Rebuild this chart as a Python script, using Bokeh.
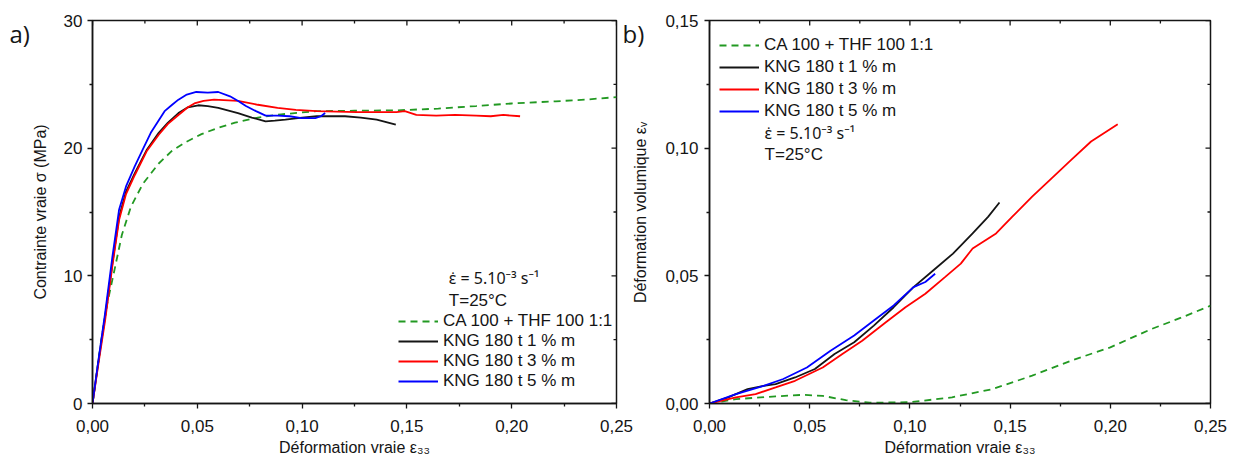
import math
from bokeh.plotting import figure
from bokeh.layouts import row
from bokeh.models import FixedTicker, Range1d, Label
from bokeh.embed import file_html
from bokeh.resources import INLINE

# ---------------- data ----------------
series_names = ["CA 100 + THF 100 1:1", "KNG 180 t 1 % m", "KNG 180 t 3 % m", "KNG 180 t 5 % m"]
series_colors = ["#229922", "#151515", "#ff0000", "#0000ff"]

x_ticks = [0.0, 0.05, 0.10, 0.15, 0.20, 0.25]
x_tick_labels = ["0,00", "0,05", "0,10", "0,15", "0,20", "0,25"]
x_minor = [0.025, 0.075, 0.125, 0.175, 0.225]

ya_ticks = [0, 10, 20, 30]
ya_tick_labels = ["0", "10", "20", "30"]
ya_minor = [5, 15, 25]

yb_ticks = [0.0, 0.05, 0.10, 0.15]
yb_tick_labels = ["0,00", "0,05", "0,10", "0,15"]
yb_minor = [0.025, 0.075, 0.125]

# Panel a : true stress vs true strain
a_ca_x = [0, 0.0042, 0.007, 0.0108, 0.014, 0.0183, 0.024, 0.0316, 0.038, 0.0448, 0.052, 0.060, 0.068,
          0.0789, 0.09, 0.107, 0.125, 0.145, 0.165, 0.183, 0.20, 0.221, 0.235, 0.25]
a_ca_y = [0, 4.97, 7.8, 10.7, 13.2, 15.4, 17.2, 18.8, 19.8, 20.5, 21.1, 21.6, 22.0,
          22.4, 22.65, 22.9, 22.93, 22.96, 23.1, 23.3, 23.5, 23.67, 23.8, 24.0]

a_k1_x = [0, 0.003, 0.006, 0.0095, 0.0127, 0.016, 0.0202, 0.026, 0.0316, 0.036, 0.041, 0.0455, 0.0505,
          0.055, 0.060, 0.0694, 0.076, 0.0826, 0.087, 0.092, 0.1, 0.107, 0.1205, 0.128, 0.1356, 0.1447]
a_k1_y = [0, 3.5, 6.8, 11.0, 14.6, 16.6, 18.05, 19.9, 21.2, 22.0, 22.75, 23.2, 23.36,
          23.3, 23.15, 22.75, 22.4, 22.1, 22.15, 22.23, 22.4, 22.5, 22.5, 22.4, 22.23, 21.84]

a_k3_x = [0, 0.003, 0.006, 0.0095, 0.0127, 0.016, 0.0202, 0.026, 0.0316, 0.036, 0.041, 0.0455, 0.0486,
          0.053, 0.058, 0.0694, 0.0789, 0.0883, 0.097, 0.107, 0.126, 0.145, 0.149, 0.1545, 0.164,
          0.173, 0.183, 0.19, 0.196, 0.204]
a_k3_y = [0, 3.3, 6.5, 10.8, 14.4, 16.4, 17.9, 19.8, 21.05, 21.9, 22.6, 23.2, 23.5,
          23.7, 23.8, 23.7, 23.4, 23.15, 23.0, 22.9, 22.83, 22.83, 22.9, 22.6, 22.55,
          22.6, 22.55, 22.5, 22.6, 22.5]

a_k5_x = [0, 0.003, 0.006, 0.0095, 0.0127, 0.016, 0.0202, 0.024, 0.0278, 0.0344, 0.038, 0.041, 0.045,
          0.0495, 0.055, 0.060, 0.0656, 0.0695, 0.0732, 0.078, 0.0826, 0.0883, 0.094, 0.0997, 0.1063,
          0.109, 0.111]
a_k5_y = [0, 3.6, 7.06, 11.5, 15.2, 17.0, 18.6, 19.9, 21.2, 22.9, 23.4, 23.8, 24.2,
          24.4, 24.35, 24.4, 24.06, 23.7, 23.3, 22.9, 22.55, 22.55, 22.5, 22.36, 22.36,
          22.5, 22.75]

# Panel b : volumetric strain vs true strain
b_ca_x = [0, 0.0132, 0.033, 0.0467, 0.0565, 0.068, 0.080, 0.0998, 0.121, 0.141, 0.161, 0.1805,
          0.200, 0.220, 0.235, 0.25]
b_ca_y = [0, 0.0017, 0.0028, 0.0034, 0.0030, 0.0013, 0.0003, 0.0005, 0.0024, 0.0056, 0.0109, 0.0168,
          0.0220, 0.0290, 0.0335, 0.0383]

b_k1_x = [0, 0.0093, 0.019, 0.027, 0.033, 0.0427, 0.0526, 0.0624, 0.0722, 0.082, 0.0919, 0.1018,
          0.1116, 0.1215, 0.1313, 0.139, 0.1447]
b_k1_y = [0, 0.0024, 0.0056, 0.0069, 0.0076, 0.0102, 0.0135, 0.0194, 0.0240, 0.0305, 0.0377, 0.0456,
          0.0521, 0.0587, 0.0666, 0.0731, 0.0787]

b_k3_x = [0, 0.0132, 0.023, 0.033, 0.0427, 0.0565, 0.0663, 0.0762, 0.088, 0.0978, 0.1077, 0.1175,
          0.1254, 0.1313, 0.143, 0.151, 0.161, 0.1707, 0.1805, 0.1904, 0.2037]
b_k3_y = [0, 0.0024, 0.0037, 0.0063, 0.0089, 0.0141, 0.0194, 0.0246, 0.0318, 0.0377, 0.0430, 0.0495,
          0.0548, 0.0607, 0.0666, 0.0731, 0.0810, 0.0882, 0.0954, 0.1026, 0.1094]

b_k5_x = [0, 0.0132, 0.027, 0.0368, 0.0486, 0.0604, 0.0722, 0.082, 0.0919, 0.1018, 0.1077, 0.1126]
b_k5_y = [0, 0.0037, 0.0069, 0.0096, 0.0141, 0.0207, 0.0266, 0.0325, 0.0384, 0.0456, 0.0476, 0.0508]

rate_text = "\u03b5\u0307 = 5.10\u207b\u00b3 s\u207b\u00b9"
temp_text = "T=25\u00b0C"

FONT = "Liberation Sans"
INK = "#151515"


def style_axis(ax, ticks, minor, labels):
    ax.ticker = FixedTicker(ticks=ticks, minor_ticks=minor)
    ax.axis_line_color = INK
    ax.axis_line_width = 1.5
    ax.major_tick_line_color = INK
    ax.minor_tick_line_color = INK
    ax.major_tick_line_width = 1.3
    ax.minor_tick_line_width = 1.3
    ax.major_tick_in, ax.major_tick_out = 0, 5
    ax.minor_tick_in, ax.minor_tick_out = 0, 3
    ax.major_label_overrides = {t: l for t, l in zip(ticks, labels)}
    ax.major_label_text_font = FONT
    ax.major_label_text_font_size = "17px"
    ax.major_label_text_color = INK
    ax.axis_label_text_font = FONT
    ax.axis_label_text_font_size = "16px"
    ax.axis_label_text_font_style = "normal"
    ax.axis_label_text_color = INK


def make_panel(width, yr, yt, ym, ylab, bl, br, ylabel):
    p = figure(width=width, height=460, x_range=Range1d(0, 0.25), y_range=Range1d(*yr),
               output_backend="svg", toolbar_location=None,
               min_border_left=bl, min_border_right=br, min_border_top=20, min_border_bottom=57)
    p.grid.visible = False
    p.outline_line_color = INK
    p.outline_line_width = 1.5
    style_axis(p.xaxis[0], x_ticks, x_minor, x_tick_labels)
    p.xaxis[0].axis_label = "D\u00e9formation vraie \u03b5\u2083\u2083"
    p.xaxis[0].major_label_standoff = 11
    p.xaxis[0].axis_label_standoff = 4
    style_axis(p.yaxis[0], yt, ym, ylab)
    p.yaxis[0].major_label_standoff = 5
    if ylabel:
        p.yaxis[0].axis_label = ylabel
        p.yaxis[0].axis_label_standoff = 12
    # mirrored inward ticks on the top and right edges of the frame
    tick_kw = dict(line_color=INK, line_width=1.3, length_units="screen")
    p.ray(x=x_ticks, y=[yr[1]] * len(x_ticks), length=5, angle=-math.pi / 2, **tick_kw)
    p.ray(x=x_minor, y=[yr[1]] * len(x_minor), length=3, angle=-math.pi / 2, **tick_kw)
    p.ray(x=[0.25] * len(yt), y=yt, length=5, angle=math.pi, **tick_kw)
    p.ray(x=[0.25] * len(ym), y=ym, length=3, angle=math.pi, **tick_kw)
    return p


def add_series(p, xs, ys, name, color):
    kw = dict(line_color=color, line_width=1.8, legend_label=name)
    if name.startswith("CA"):
        kw["line_dash"] = "7 5"
    p.line(xs, ys, **kw)


def style_legend(p, loc, spacing):
    lg = p.legend[0]
    lg.location = loc
    lg.label_text_font = FONT
    lg.label_text_font_size = "17px"
    lg.label_text_color = INK
    lg.glyph_width = 40
    lg.glyph_height = 20
    lg.label_height = 20
    lg.label_standoff = 5
    lg.spacing = spacing
    lg.padding = 0
    lg.margin = 0
    lg.border_line_alpha = 0
    lg.background_fill_alpha = 0


def screen_label(x, y, text, size="17px", font=FONT, angle=0.0, align="left"):
    return Label(x=x, y=y, x_units="screen", y_units="screen", text=text,
                 text_font=font, text_font_size=size, text_color=INK,
                 text_baseline="middle", text_align=align, angle=angle)


def data_label(x, y, text, size="17px", font=FONT):
    return Label(x=x, y=y, text=text, text_font=font, text_font_size=size, text_color=INK,
                 text_baseline="middle", text_align="left")


# ---------------- panel a ----------------
pa = make_panel(662, (0, 30), ya_ticks, ya_minor, ya_tick_labels, 92, 46,
                "Contrainte vraie \u03c3 (MPa)")
for xs, ys, n, c in zip([a_ca_x, a_k1_x, a_k3_x, a_k5_x], [a_ca_y, a_k1_y, a_k3_y, a_k5_y],
                        series_names, series_colors):
    add_series(pa, xs, ys, n, c)
style_legend(pa, (306, 12), 0)
pa.add_layout(data_label(0.170, 9.85, rate_text, size="16px", font="Noto Sans"))
pa.add_layout(data_label(0.170, 8.1, temp_text))
# side-panel texts (panel letters and the y title of panel b)
pa.add_layout(screen_label(1, 370, "a)", size="24px", font="Open Sans"), "left")
pa.add_layout(screen_label(6, 370, "b)", size="24px", font="Open Sans"), "right")
pa.add_layout(screen_label(2, 191, "D\u00e9formation volumique \u03b5\u1d65", size="16px",
                           angle=math.pi / 2, align="center"), "right")

# ---------------- panel b ----------------
pb = make_panel(574, (0, 0.15), yb_ticks, yb_minor, yb_tick_labels, 46, 26, None)
pb.yaxis[0].major_label_standoff = 6
for xs, ys, n, c in zip([b_ca_x, b_k1_x, b_k3_x, b_k5_x], [b_ca_y, b_k1_y, b_k3_y, b_k5_y],
                        series_names, series_colors):
    add_series(pb, xs, ys, n, c)
style_legend(pb, (10, 282), 2)
pb.add_layout(data_label(0.0275, 0.1061, rate_text, size="16px", font="Noto Sans"))
pb.add_layout(data_label(0.0275, 0.0975, temp_text))

layout = row(pa, pb, spacing=0)
open("out.html", "w").write(file_html(layout, INLINE))
